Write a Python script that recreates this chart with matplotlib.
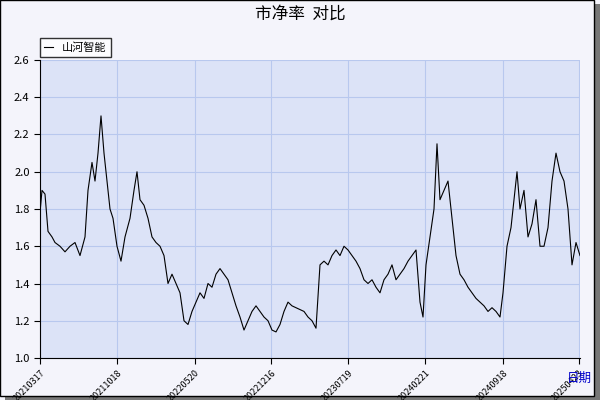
import matplotlib
matplotlib.use("Agg")
import matplotlib.pyplot as plt
from matplotlib.patches import Rectangle

plt.rcParams['font.family'] = ['Noto Sans CJK SC', 'DejaVu Sans']

days = [0,2,5,8,12,15,20,25,30,35,40,45,48,52,55,58,61,64,67,70,73,77,81,85,90,94,97,100,104,108,112,116,120,124,128,132,136,140,144,148,152,156,160,164,168,172,176,180,184,188,192,196,200,204,208,212,216,220,224,228,232,236,240,244,248,252,256,260,264,268,272,276,280,284,288,292,296,300,304,308,312,316,320,324,328,332,336,340,344,348,352,356,360,364,368,372,376,380,383,386,390,394,397,400,404,408,412,416,420,424,428,432,436,440,444,448,452,456,460,463,467,471,474,477,480,484,488,492,496,500,504,508,512,516,520,524,528,532,536,540]
pb = [1.78,1.9,1.88,1.68,1.65,1.62,1.6,1.57,1.6,1.62,1.55,1.65,1.9,2.05,1.95,2.1,2.3,2.1,1.95,1.8,1.75,1.6,1.52,1.65,1.75,1.9,2.0,1.85,1.82,1.75,1.65,1.62,1.6,1.55,1.4,1.45,1.4,1.35,1.2,1.18,1.25,1.3,1.35,1.32,1.4,1.38,1.45,1.48,1.45,1.42,1.35,1.28,1.22,1.15,1.2,1.25,1.28,1.25,1.22,1.2,1.15,1.14,1.18,1.25,1.3,1.28,1.27,1.26,1.25,1.22,1.2,1.16,1.5,1.52,1.5,1.55,1.58,1.55,1.6,1.58,1.55,1.52,1.48,1.42,1.4,1.42,1.38,1.35,1.42,1.45,1.5,1.42,1.45,1.48,1.52,1.55,1.58,1.3,1.22,1.5,1.65,1.8,2.15,1.85,1.9,1.95,1.75,1.55,1.45,1.42,1.38,1.35,1.32,1.3,1.28,1.25,1.27,1.25,1.22,1.35,1.6,1.7,1.85,2.0,1.8,1.9,1.65,1.72,1.85,1.6,1.6,1.7,1.95,2.1,2.0,1.95,1.8,1.5,1.62,1.55]
tick_pos = [0,77,155,231,308,385,463,539]
tick_labels = ['20210317','20211018','20220520','20221216','20230719','20240221','20240918','20250423']

fig = plt.figure(figsize=(6,4), dpi=100, facecolor='#f4f4fb')
fig.patches.append(Rectangle((0.008,0.0),0.992,0.99,transform=fig.transFigure,fc='#777777',ec='none',zorder=-2))
fig.patches.append(Rectangle((0.0,0.01),0.99,0.99,transform=fig.transFigure,fc='#f4f4fb',ec='black',lw=1,zorder=-1))
ax = fig.add_axes([40/600, 1-358/400, 540/600, 298/400])
ax.set_facecolor('#dce3f7')
ax.plot(days, pb, color='black', lw=0.8, label='山河智能')
ax.set_xlim(0,540)
ax.set_ylim(1.0,2.6)
ax.set_yticks([1.0,1.2,1.4,1.6,1.8,2.0,2.2,2.4,2.6])
ax.set_yticklabels([f'{v:.1f}' for v in ax.get_yticks()], fontsize=8)
ax.set_xticks(tick_pos)
ax.set_xticklabels(tick_labels, rotation=45, ha='right', rotation_mode='anchor', fontsize=6.5)
ax.grid(True, color='#b8c8ee', lw=0.8)
for s in ['top','right']:
    ax.spines[s].set_visible(False)
ax.tick_params(length=4)
fig.text(0.5, 0.965, '市净率  对比', ha='center', va='center', fontsize=12)
fig.text(0.965, 0.055, '日期', ha='center', va='center', fontsize=9, color='#0000cc')
ax.legend(loc='lower left', bbox_to_anchor=(0.0, 1.01), fontsize=8, frameon=True, fancybox=False, edgecolor='black', handlelength=0.8, borderaxespad=0)
fig.savefig('out.png', dpi=100, facecolor=fig.get_facecolor())
